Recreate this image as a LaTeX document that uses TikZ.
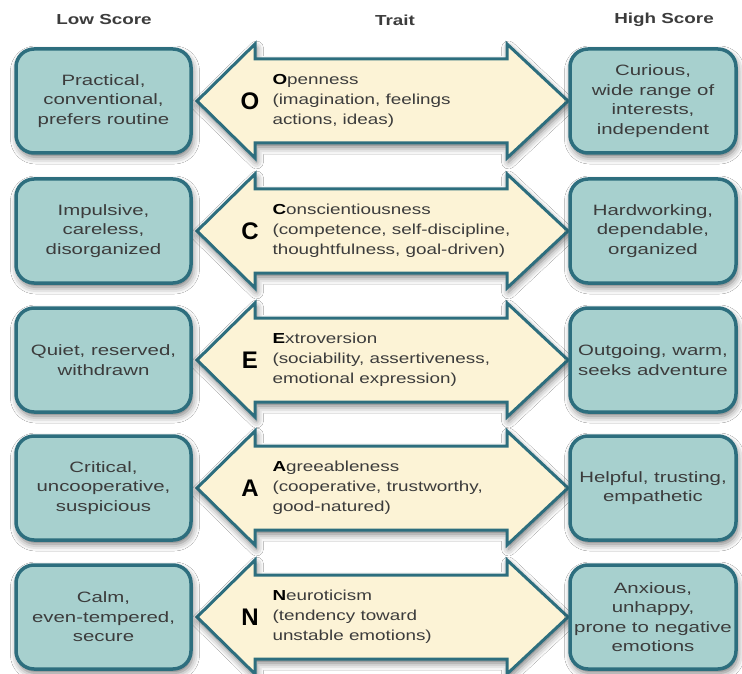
\documentclass[tikz,border=0pt]{standalone}
\usepackage{fontspec}
\setmainfont{Liberation Sans}
\newfontfamily\widesans[FakeStretch=1.3]{Liberation Sans}
\newfontfamily\widersans[FakeStretch=1.36]{Liberation Sans}
\usetikzlibrary{shadows.blur}

\definecolor{boxfill}{HTML}{A7D0CE}
\definecolor{edgeteal}{HTML}{2D6E7E}
\definecolor{cream}{HTML}{FCF3D6}
\definecolor{txtgray}{HTML}{3C3C3C}

\tikzset{
  softshadow/.style={blur shadow={shadow xshift=1.5pt, shadow yshift=-4pt,
      shadow blur radius=7pt, shadow opacity=55}},
  scorebox/.style={draw=edgeteal, line width=3.5pt, fill=boxfill,
      rounded corners=18pt, softshadow, inner sep=0pt},
  lowbox/.style={scorebox, minimum width=175pt, minimum height=104pt},
  highbox/.style={scorebox, minimum width=166pt, minimum height=104pt},
  traitarrow/.style={draw=edgeteal, line width=3pt, fill=cream,
      line join=miter, softshadow},
  desc/.style={text=txtgray, align=center,
      font=\widersans\fontsize{15}{19.5}\selectfont},
  traitdesc/.style={text=txtgray, align=left, anchor=west,
      font=\widesans\fontsize{14.5}{20}\selectfont},
  traitletter/.style={text=black, font=\bfseries\fontsize{24}{24}\selectfont},
  header/.style={text=txtgray, font=\widesans\bfseries\fontsize{14.5}{16}\selectfont}
}

% One row: #1 centre y, #2 letter, #3 low-score text, #4 trait text, #5 high-score text
\newcommand\personalityrow[5]{%
  \draw[traitarrow]
    (197,#1) -- (255,#1-57) -- (255,#1-42) -- (507,#1-42) -- (507,#1-57)
    -- (568,#1) -- (507,#1+57) -- (507,#1+42) -- (255,#1+42) -- (255,#1+57)
    -- cycle;
  \node[lowbox] (low#2) at (103.5,#1) {};
  \node[desc] (lowtext#2) at (low#2.center) {#3};
  \node[highbox] (high#2) at (653,#1) {};
  \node[desc] (hightext#2) at (high#2.center) {#5};
  \node[traitletter] (letter#2) at (250,#1) {#2};
  \node[traitdesc] (trait#2) at (269,#1) {#4};
}

\newcommand\initial[1]{\textcolor{black}{\bfseries #1}}

\begin{document}
\begin{tikzpicture}[x=1pt,y=-1pt]
  \fill[white] (0,0) rectangle (742,674);
  \useasboundingbox (0,0) rectangle (742,674);

  \node[header] (lowhead) at (104,20) {Low Score};
  \node[header] (traithead) at (395,20) {Trait};
  \node[header] (highhead) at (664,20) {High Score};

  \personalityrow{101}{O}
    {Practical,\\conventional,\\prefers routine}
    {\initial{O}penness\\(imagination, feelings\\actions, ideas)}
    {Curious,\\wide range of\\interests,\\independent}

  \personalityrow{231}{C}
    {Impulsive,\\careless,\\disorganized}
    {\initial{C}onscientiousness\\(competence, self-discipline,\\thoughtfulness, goal-driven)}
    {Hardworking,\\dependable,\\organized}

  \personalityrow{360}{E}
    {Quiet, reserved,\\withdrawn}
    {\initial{E}xtroversion\\(sociability, assertiveness,\\emotional expression)}
    {Outgoing, warm,\\seeks adventure}

  \personalityrow{488}{A}
    {Critical,\\uncooperative,\\suspicious}
    {\initial{A}greeableness\\(cooperative, trustworthy,\\good-natured)}
    {Helpful, trusting,\\empathetic}

  \personalityrow{617}{N}
    {Calm,\\even-tempered,\\secure}
    {\initial{N}euroticism\\(tendency toward\\unstable emotions)}
    {Anxious,\\unhappy,\\prone to negative\\emotions}
\end{tikzpicture}
\end{document}
